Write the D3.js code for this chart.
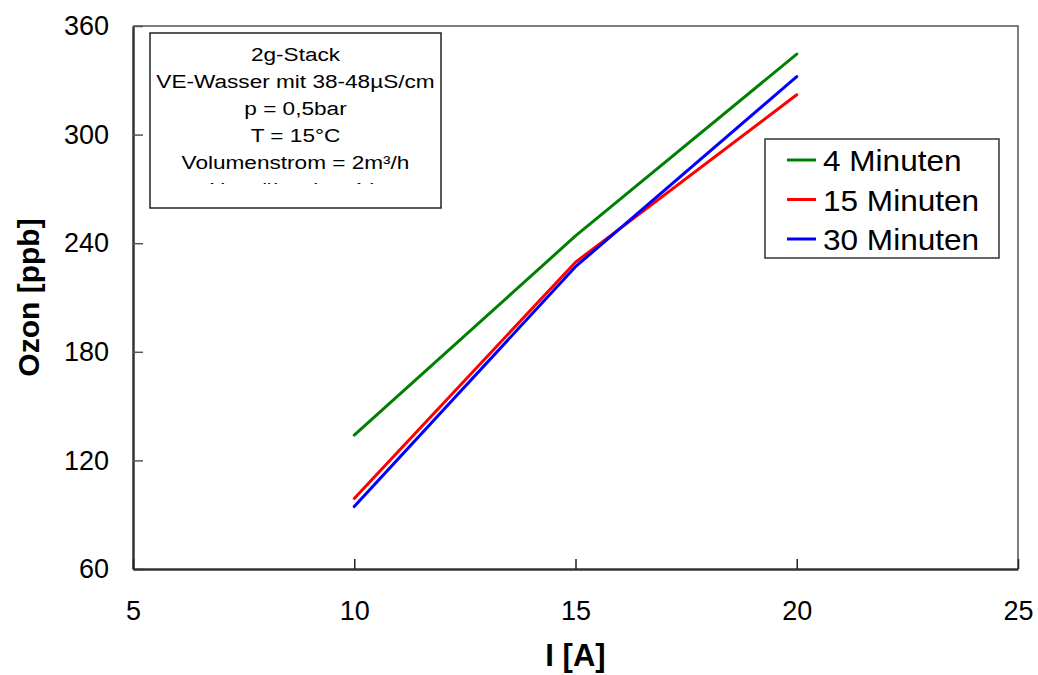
<!DOCTYPE html>
<html>
<head>
<meta charset="utf-8">
<script src="https://cdn.jsdelivr.net/npm/d3@7"></script>
<style>
  html, body { margin: 0; padding: 0; background: #fff; }
  svg { display: block; font-family: "Liberation Sans", Arial, sans-serif; }
</style>
</head>
<body>
<svg id="chart" width="1038" height="675"></svg>
<script>
// Current (A) at which ozone was measured
const current = [10, 15, 20];
// Ozone concentration (ppb) after each sampling time
const ozon4min = [134, 244, 344.5];
const ozon15min = [99, 229.5, 322];
const ozon30min = [94.5, 227, 332];

const seriesNames = ["4 Minuten", "15 Minuten", "30 Minuten"];
const seriesColors = ["#008000", "#ff0000", "#0000ff"];

const xTicks = [5, 10, 15, 20, 25];
const yTicks = [60, 120, 180, 240, 300, 360];

const infoLines = [
  "2g-Stack",
  "VE-Wasser mit 38-48µS/cm",
  "p = 0,5bar",
  "T = 15°C",
  "Volumenstrom = 2m³/h",
  "Umwälzzeit = 4 h"
];

const svg = d3.select("#chart");
const plotLeft = 133, plotRight = 1018, plotTop = 26, plotBottom = 569;

const x = d3.scaleLinear().domain([5, 25]).range([plotLeft, plotRight]);
const y = d3.scaleLinear().domain([60, 360]).range([plotBottom, plotTop]);

// plot frame: top and right edges
svg.append("path")
  .attr("d", `M${plotLeft},${plotTop}H${plotRight}V${plotBottom}`)
  .attr("fill", "none").attr("stroke", "#555").attr("stroke-width", 1.5);

// y axis with inward ticks
const yAxis = svg.append("g")
  .attr("transform", `translate(${plotLeft},0)`)
  .call(d3.axisLeft(y).tickValues(yTicks).tickSize(-10).tickPadding(24).tickSizeOuter(0));
yAxis.select(".domain").attr("stroke", "#333").attr("stroke-width", 2.5);
yAxis.selectAll(".tick line").attr("stroke", "#555").attr("stroke-width", 1.5);
yAxis.selectAll(".tick text")
  .attr("font-size", 27).attr("fill", "#000")
  .attr("font-family", "Liberation Sans, Arial, sans-serif");

// x axis with inward ticks
const xAxis = svg.append("g")
  .attr("transform", `translate(0,${plotBottom})`)
  .call(d3.axisBottom(x).tickValues(xTicks).tickSize(-10).tickPadding(32).tickSizeOuter(0));
xAxis.select(".domain").attr("stroke", "#333").attr("stroke-width", 2.5);
xAxis.selectAll(".tick line").attr("stroke", "#222").attr("stroke-width", 1.5);
xAxis.selectAll(".tick text")
  .attr("font-size", 27).attr("fill", "#000")
  .attr("font-family", "Liberation Sans, Arial, sans-serif");

// axis titles
svg.append("text")
  .attr("x", x(15)).attr("y", 666)
  .attr("text-anchor", "middle")
  .attr("font-size", 31).attr("font-weight", "bold")
  .text("I [A]");

svg.append("text")
  .attr("transform", `translate(39,${y(210)}) rotate(-90)`)
  .attr("text-anchor", "middle")
  .attr("font-size", 30).attr("font-weight", "bold")
  .text("Ozon [ppb]");

// measurement lines
const allSeries = [ozon4min, ozon15min, ozon30min];
const line = d3.line().x((d, i) => x(current[i])).y(d => y(d));
allSeries.forEach((vals, k) => {
  svg.append("path")
    .datum(vals)
    .attr("d", line)
    .attr("fill", "none")
    .attr("stroke", seriesColors[k])
    .attr("stroke-width", 3)
    .attr("stroke-linecap", "round")
    .attr("stroke-linejoin", "round");
});

// info box with test conditions (text is horizontally widened)
const boxX = 150, boxY = 33, boxW = 291, boxH = 175;
svg.append("clipPath").attr("id", "infoClip")
  .append("rect").attr("x", boxX).attr("y", boxY).attr("width", boxW).attr("height", 151);
svg.append("rect")
  .attr("x", boxX).attr("y", boxY).attr("width", boxW).attr("height", boxH)
  .attr("fill", "#fff").attr("stroke", "#222").attr("stroke-width", 1.5);
svg.append("g").attr("clip-path", "url(#infoClip)")
  .selectAll("text").data(infoLines).join("text")
  .attr("transform", (d, i) => `translate(${boxX + boxW / 2},${61 + i * 27}) scale(1.27,1)`)
  .attr("text-anchor", "middle")
  .attr("font-size", 17.8)
  .text(d => d);

// legend
const lgX = 765, lgY = 139, lgW = 234, lgH = 119;
svg.append("rect")
  .attr("x", lgX).attr("y", lgY).attr("width", lgW).attr("height", lgH)
  .attr("fill", "#fff").attr("stroke", "#333").attr("stroke-width", 1.5);
const items = svg.append("g").selectAll("g").data(seriesNames).join("g")
  .attr("transform", (d, i) => `translate(0,${160 + i * 39.5})`);
items.append("line")
  .attr("x1", 787).attr("x2", 816)
  .attr("stroke", (d, i) => seriesColors[i]).attr("stroke-width", 3);
items.append("text")
  .attr("transform", "translate(823,11) scale(1.07,1)")
  .attr("font-size", 29.5)
  .text(d => d);
</script>
</body>
</html>
